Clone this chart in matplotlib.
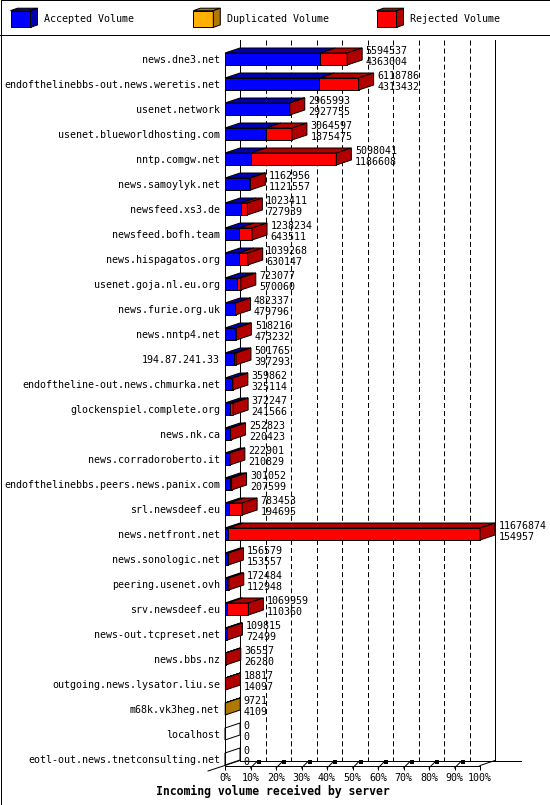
import matplotlib
matplotlib.use("Agg")
import matplotlib.pyplot as plt
from matplotlib.patches import Polygon, Rectangle

# ---------------- data ----------------
servers = [
    "news.dne3.net",
    "endofthelinebbs-out.news.weretis.net",
    "usenet.network",
    "usenet.blueworldhosting.com",
    "nntp.comgw.net",
    "news.samoylyk.net",
    "newsfeed.xs3.de",
    "newsfeed.bofh.team",
    "news.hispagatos.org",
    "usenet.goja.nl.eu.org",
    "news.furie.org.uk",
    "news.nntp4.net",
    "194.87.241.33",
    "endoftheline-out.news.chmurka.net",
    "glockenspiel.complete.org",
    "news.nk.ca",
    "news.corradoroberto.it",
    "endofthelinebbs.peers.news.panix.com",
    "srl.newsdeef.eu",
    "news.netfront.net",
    "news.sonologic.net",
    "peering.usenet.ovh",
    "srv.newsdeef.eu",
    "news-out.tcpreset.net",
    "news.bbs.nz",
    "outgoing.news.lysator.liu.se",
    "m68k.vk3heg.net",
    "localhost",
    "eotl-out.news.tnetconsulting.net",
]
total_volume = [5594537, 6118786, 2965993, 3064597, 5098041, 1162956, 1023411,
                1238234, 1039268, 723077, 482337, 518216, 501765, 359862,
                372247, 252823, 222901, 301052, 783453, 11676874, 156579,
                172484, 1069959, 109815, 36557, 18817, 9721, 0, 0]
accepted_volume = [4363004, 4313432, 2927755, 1875475, 1186608, 1121557, 727939,
                   643511, 630147, 570060, 479796, 473232, 397293, 325114,
                   241566, 220423, 210829, 207599, 194695, 154957, 153557,
                   112948, 110360, 72499, 26280, 14097, 4109, 0, 0]
duplicated_volume = [0, 0, 0, 0, 0, 0, 0, 0, 0, 0, 0, 0, 0, 0, 0, 0, 0, 0, 0,
                     0, 0, 0, 0, 0, 0, 0, 5612, 0, 0]
rejected_volume = [t - a - d for t, a, d in
                   zip(total_volume, accepted_volume, duplicated_volume)]
tick_labels = ["0%", "10%", "20%", "30%", "40%", "50%", "60%", "70%", "80%",
               "90%", "100%"]
legend_labels = ["Accepted Volume", "Duplicated Volume", "Rejected Volume"]
title = "Incoming volume received by server"

# ---------------- style ----------------
BLUE, DBLUE = "#0000ff", "#0000b0"
ORANGE, DORANGE = "#ffb000", "#b07800"
RED, DRED = "#ff0000", "#b00000"
LW = 0.72
FONT = "DejaVu Sans Mono"
FS = 7.2
plt.rcParams["font.family"] = FONT
plt.rcParams["lines.scale_dashes"] = False

W, H = 550, 805
fig = plt.figure(figsize=(W / 100, H / 100), dpi=100)
fig.patch.set_facecolor("white")

deco = fig.add_axes([0, 0, 1, 1])
deco.set_xlim(0, W)
deco.set_ylim(H, 0)
deco.axis("off")
deco.set_zorder(0)

# plot area (front plane)
AX_L, AX_R, AX_T, AX_B = 225, 480, 53, 765.5
ax = fig.add_axes([AX_L / W, (H - AX_B) / H, (AX_R - AX_L) / W, (AX_B - AX_T) / H])
ax.set_zorder(1)
ax.set_facecolor("none")
n = len(servers)
XMAX = max(total_volume)
Y_TOP, Y_BOT = -0.24, 28.26
ax.set_xlim(0, XMAX)
ax.set_ylim(Y_BOT, Y_TOP)

DX, DY = 15, 5      # 3D depth in pixels
HALF = 0.24         # half bar height in rows


def shift(x, y, dxp, dyp):
    X, Y = ax.transData.transform((x, y))
    return tuple(ax.transData.inverted().transform((X + dxp, Y + dyp)))


# back wall
wall_top = -0.76
wall_bot = shift(0, Y_BOT, DX, DY)[1]
ticks = [XMAX * k / 10 for k in range(len(tick_labels))]
for k, v in enumerate(ticks):
    xb = shift(v, 0, DX, DY)[0]
    if k in (0, len(ticks) - 1):
        ax.plot([xb, xb], [wall_top, wall_bot], color="black", lw=LW,
                clip_on=False, zorder=0.5)
    else:
        ax.plot([xb, xb], [wall_top, wall_bot], color="black", lw=LW,
                dashes=(3.6, 2.2), clip_on=False, zorder=0.5)

# floor
p0 = shift(0, Y_BOT, DX, DY)
p1 = shift(XMAX, Y_BOT, DX + 26, DY)
ax.plot([p0[0], p1[0]], [p0[1], p1[1]], color="black", lw=LW, clip_on=False, zorder=0.6)
p2 = shift(XMAX, Y_BOT, DX, DY)
ax.plot([XMAX, p2[0]], [Y_BOT, p2[1]], color="black", lw=LW, clip_on=False, zorder=0.6)
p3 = shift(0, Y_BOT, -17, -5.5)
ax.plot([p3[0], p0[0]], [p3[1], p0[1]], color="black", lw=LW, clip_on=False, zorder=0.6)
for v in ticks[1:-1]:
    a = shift(v, Y_BOT, 0, -2.5)
    b = shift(v, Y_BOT, 6, 3.5)
    ax.plot([a[0], b[0]], [a[1], b[1]], color="black", lw=LW, clip_on=False, zorder=0.6)
    m = shift(v, Y_BOT, 8, 4)
    ax.plot([m[0]], [m[1]], marker="s", ms=2.2, color="black", mew=0,
            clip_on=False, zorder=0.6)

# bars
for i in range(n):
    segs = [(accepted_volume[i], BLUE, DBLUE),
            (duplicated_volume[i], ORANGE, DORANGE),
            (rejected_volume[i], RED, DRED)]
    left = 0
    last_dark = "white"
    top, bot = i - HALF, i + HALF
    for w, c, dc in segs:
        if w <= 0:
            continue
        bars = ax.barh(i, w, left=left, height=2 * HALF, color=c,
                       edgecolor="black", linewidth=LW, zorder=2)
        for b in bars:
            b.set_clip_on(False)
        face = [(left, top), (left + w, top), shift(left + w, top, DX, DY),
                shift(left, top, DX, DY)]
        ax.add_patch(Polygon(face, closed=True, facecolor=dc, edgecolor="black",
                             lw=LW, zorder=2, clip_on=False))
        left += w
        last_dark = dc
    side = [(left, top), (left, bot), shift(left, bot, DX, DY), shift(left, top, DX, DY)]
    ax.add_patch(Polygon(side, closed=True, facecolor=last_dark, edgecolor="black",
                         lw=LW, zorder=2, clip_on=False))
    ax.annotate(f"{total_volume[i]}", xy=(left, i), xytext=(DX + 3.5, 8.5),
                textcoords="offset pixels", ha="left", va="center", fontsize=FS,
                annotation_clip=False, zorder=3)
    ax.annotate(f"{accepted_volume[i]}", xy=(left, i), xytext=(DX + 3.5, -2.5),
                textcoords="offset pixels", ha="left", va="center", fontsize=FS,
                annotation_clip=False, zorder=3)

# axes / ticks
ax.set_yticks(range(n), labels=servers)
ax.tick_params(axis="y", length=0, pad=3.6, labelsize=FS)
ax.set_xticks(ticks, labels=tick_labels)
ax.tick_params(axis="x", length=2.9, width=LW, pad=2.5, labelsize=FS)
for s in ("top", "right"):
    ax.spines[s].set_visible(False)
for s in ("left", "bottom"):
    ax.spines[s].set_linewidth(LW)

# legend (decoration)
leg_x = [10.5, 193.3, 376.5]
leg_cols = [(BLUE, DBLUE), (ORANGE, DORANGE), (RED, DRED)]
for x0, (c, dc), lab in zip(leg_x, leg_cols, legend_labels):
    y0, w, h, ddx, ddy = 10.7, 20, 16.7, 7, 2.5
    deco.add_patch(Rectangle((x0, y0), w, h, facecolor=c, edgecolor="black", lw=LW))
    deco.add_patch(Polygon([(x0, y0), (x0 + w, y0), (x0 + w + ddx, y0 - ddy),
                            (x0 + ddx, y0 - ddy)], closed=True, facecolor=dc,
                           edgecolor="black", lw=LW))
    deco.add_patch(Polygon([(x0 + w, y0), (x0 + w + ddx, y0 - ddy),
                            (x0 + w + ddx, y0 + h - ddy), (x0 + w, y0 + h)],
                           closed=True, facecolor=dc, edgecolor="black", lw=LW))
    deco.text(x0 + 34, 19.5, lab, ha="left", va="center", fontsize=FS)

deco.plot([0, W], [35.5, 35.5], color="black", lw=LW)
deco.add_patch(Rectangle((0.5, 0.5), W - 1, H - 1, fill=False, edgecolor="black", lw=LW))
deco.text(156, 791.7, title, ha="left", va="center", fontsize=8.3, fontweight="bold")

fig.savefig("out.png", dpi=100)
